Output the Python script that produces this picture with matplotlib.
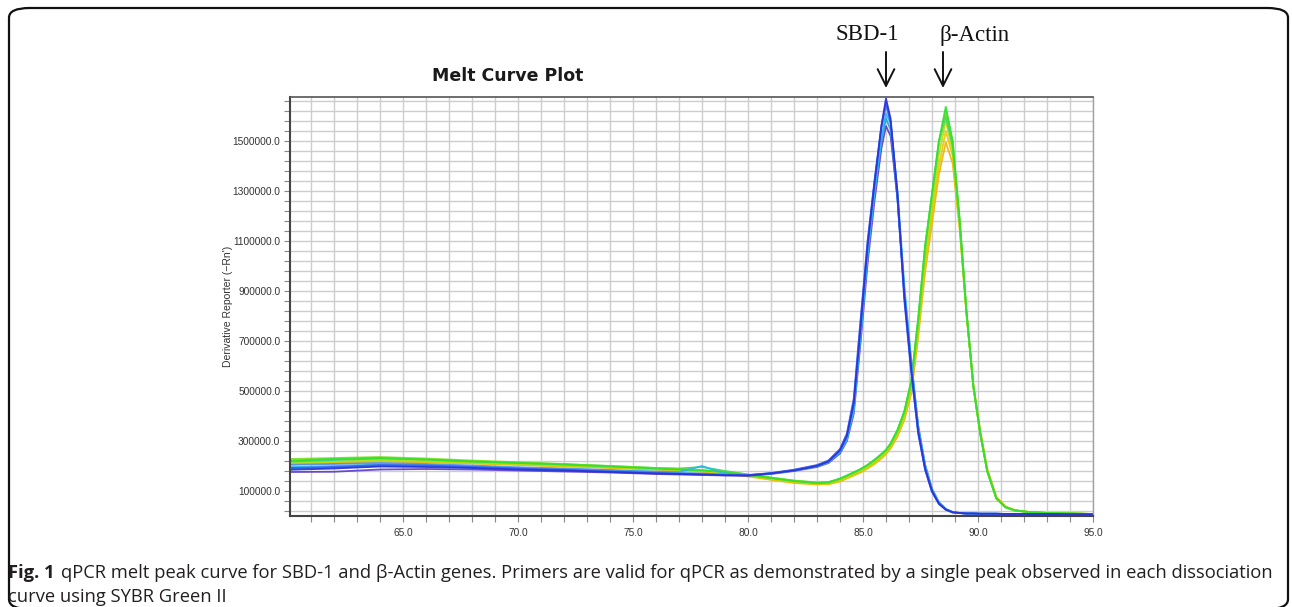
import numpy as np
import matplotlib
matplotlib.use("Agg")
import matplotlib.pyplot as plt
from matplotlib.ticker import FixedLocator, FormatStrFormatter
from matplotlib.patches import FancyBboxPatch
from matplotlib import font_manager

# temperature grid (deg C), denser around the two peaks
temp = [60.1, 62, 64, 66, 68, 70, 72, 74, 76,
        77, 78, 79, 80, 81, 82, 83,
        83.5, 84,
        84.3, 84.6, 84.9, 85.2, 85.5, 85.8,
        86.0,
        86.2, 86.5, 86.8, 87.1, 87.4, 87.7, 88.0, 88.3, 88.6,
        88.9, 89.2, 89.5, 89.8, 90.1, 90.4,
        90.8, 91.2, 91.6, 92.2, 93, 94, 95]

# derivative reporter values, in thousands
sbd1 = [185, 190, 198, 196, 192, 186, 182, 176, 170, 168, 166, 163, 162, 170, 182, 200, 218, 262,
        320, 450, 760, 1080, 1330, 1560, 1670, 1590, 1290, 880, 590, 340, 190, 100, 50, 26,
        15, 12, 10, 10, 9, 9, 9, 8, 8, 8, 8, 7, 7]
sbd2 = [192, 196, 204, 202, 196, 190, 185, 178, 172, 169, 166, 164, 163, 172, 185, 204, 222, 268,
        330, 470, 790, 1100, 1340, 1560, 1655, 1575, 1270, 860, 570, 330, 185, 96, 48, 25,
        14, 12, 10, 10, 9, 9, 9, 8, 8, 8, 8, 7, 7]
sbd3 = [176, 177, 186, 188, 186, 182, 178, 174, 168, 166, 164, 162, 161, 168, 180, 196, 212, 250,
        300, 410, 700, 1010, 1260, 1470, 1560, 1520, 1270, 900, 610, 360, 205, 108, 55, 28,
        16, 12, 10, 10, 9, 9, 9, 8, 8, 8, 8, 7, 7]
sbd4 = [196, 200, 206, 204, 198, 192, 188, 182, 178, 176, 200, 170, 164, 170, 182, 198, 214, 255,
        305, 420, 720, 1040, 1290, 1510, 1610, 1570, 1300, 920, 620, 360, 205, 108, 55, 28,
        16, 12, 10, 10, 9, 9, 9, 8, 8, 8, 8, 7, 7]
sbd5 = [205, 208, 212, 208, 202, 195, 190, 184, 176, 172, 170, 166, 164, 171, 184, 202, 220, 265,
        325, 460, 780, 1090, 1335, 1550, 1640, 1580, 1285, 875, 580, 335, 188, 98, 49, 25,
        14, 12, 10, 10, 9, 9, 9, 8, 8, 8, 8, 7, 7]
sbd6 = [190, 194, 200, 199, 194, 188, 184, 179, 174, 171, 168, 165, 163, 170, 183, 201, 219, 262,
        318, 440, 745, 1060, 1300, 1500, 1590, 1545, 1270, 890, 600, 350, 198, 104, 52, 27,
        15, 12, 10, 10, 9, 9, 9, 8, 8, 8, 8, 7, 7]

act1 = [222, 228, 232, 226, 218, 212, 206, 198, 190, 186, 182, 176, 164, 152, 140, 132, 134, 150,
        162, 175, 188, 205, 225, 248, 265, 290, 345, 420, 540, 790, 1080, 1290, 1500, 1637,
        1500, 1190, 820, 520, 330, 180, 70, 35, 22, 16, 12, 10, 8]
act2 = [228, 232, 236, 230, 222, 215, 208, 200, 192, 188, 184, 178, 166, 154, 142, 134, 136, 148,
        160, 172, 186, 202, 222, 245, 262, 288, 340, 415, 535, 780, 1070, 1280, 1490, 1620,
        1495, 1185, 815, 515, 328, 178, 68, 34, 22, 16, 12, 10, 8]
act3 = [212, 218, 224, 220, 214, 208, 202, 196, 188, 184, 180, 174, 162, 150, 138, 130, 131, 144,
        156, 168, 180, 196, 215, 238, 255, 280, 330, 400, 515, 750, 1030, 1240, 1445, 1580,
        1460, 1170, 810, 515, 330, 182, 72, 36, 23, 16, 12, 10, 8]
act4 = [208, 214, 220, 217, 212, 206, 200, 194, 187, 183, 179, 172, 160, 147, 134, 128, 128, 140,
        152, 164, 176, 192, 210, 232, 250, 272, 320, 390, 500, 730, 1000, 1200, 1400, 1540,
        1440, 1160, 810, 520, 335, 186, 74, 37, 23, 16, 12, 10, 8]
act5 = [206, 212, 218, 215, 210, 204, 198, 192, 185, 181, 177, 170, 158, 145, 132, 126, 127, 138,
        150, 162, 174, 190, 208, 230, 248, 270, 318, 385, 490, 715, 975, 1170, 1365, 1495,
        1410, 1150, 810, 525, 340, 190, 76, 38, 24, 16, 12, 10, 8]
act6 = [218, 224, 230, 226, 219, 213, 207, 200, 192, 190, 196, 180, 166, 153, 141, 133, 135, 149,
        161, 174, 187, 204, 224, 247, 264, 289, 342, 418, 538, 785, 1075, 1285, 1495, 1600,
        1480, 1180, 815, 518, 330, 180, 70, 35, 22, 16, 12, 10, 8]

sbd_curves = [sbd3, sbd6, sbd4, sbd5, sbd2, sbd1]
sbd_colors = ['#5b3cc4', '#1f9fd8', '#27b8ea', '#4f8ef2', '#3a5cf0', '#2b2fd6']
act_curves = [act5, act4, act3, act6, act2, act1]
act_colors = ['#f0b400', '#e6c800', '#b5dc10', '#28d47a', '#7ddc1f', '#2fe02f']

W, H = 1292, 607
fig = plt.figure(figsize=(W/100, H/100), dpi=100)
ax = fig.add_axes([290/W, 1-516/H, (1093-290)/W, (516-97)/H])

t = np.array(temp)
for y, c in zip(act_curves, act_colors):
    ax.plot(t, np.array(y)*1000, color=c, lw=1.3, alpha=0.9)
for y, c in zip(sbd_curves, sbd_colors):
    ax.plot(t, np.array(y)*1000, color=c, lw=1.3, alpha=0.9)

ax.set_xlim(60.09, 95.0)
ax.set_ylim(0, 1676000)
ax.xaxis.set_major_locator(FixedLocator(np.arange(65, 96, 5)))
ax.xaxis.set_minor_locator(FixedLocator(np.arange(61, 96, 1)))
ax.yaxis.set_major_locator(FixedLocator(np.arange(100000, 1600000, 200000)))
ax.yaxis.set_minor_locator(FixedLocator(np.arange(20000, 1676000, 40000)))
ax.xaxis.set_major_formatter(FormatStrFormatter('%.1f'))
ax.yaxis.set_major_formatter(FormatStrFormatter('%.1f'))
ax.grid(True, which='both', color='#cdcdcd', lw=1.0)
ax.set_axisbelow(True)
ax.tick_params(which='both', direction='out', length=4, width=0.8, color='#888888',
               labelsize=7.3, labelcolor='#333333', pad=5)
ax.tick_params(axis='y', pad=3)
for lab in ax.get_xticklabels() + ax.get_yticklabels():
    lab.set_family('Liberation Sans')
ax.spines['left'].set_color('#444444'); ax.spines['left'].set_linewidth(1.5)
ax.spines['bottom'].set_color('#444444'); ax.spines['bottom'].set_linewidth(1.5)
ax.spines['top'].set_color('#555555'); ax.spines['top'].set_linewidth(1.2)
ax.spines['right'].set_color('#a0a0a0'); ax.spines['right'].set_linewidth(1.0)

fig.text(508/W, 1-76/H, 'Melt Curve Plot', ha='center', va='center', fontsize=12.5,
         fontweight='bold', family='DejaVu Sans', color='#1a1a1a')
fig.text(228/W, 1-306/H, "Derivative Reporter (\u2212Rn')", rotation=90, ha='center',
         va='center', fontsize=7.5, family='Liberation Sans', color='#333333')

# gene labels and arrows
fig.text(867/W, 1-35/H, 'SBD-1', ha='center', va='center', fontsize=16.5,
         family='Liberation Serif', color='#111111')
fig.text(975/W, 1-35/H, '\u03b2-Actin', ha='center', va='center', fontsize=16.5,
         family='Liberation Serif', color='#111111')
for xp in [886, 943]:
    ax.annotate('', xy=(xp/W, 1-88/H), xytext=(xp/W, 1-52/H), xycoords='figure fraction',
                arrowprops=dict(arrowstyle='->,head_length=1.2,head_width=0.6', lw=1.4,
                                color='#111111', shrinkA=0, shrinkB=0))

# caption
names = {f.name for f in font_manager.fontManager.ttflist}
cap_font = 'Liberation Sans Narrow' if 'Liberation Sans Narrow' in names else 'Open Sans'
r = fig.canvas.get_renderer()
fs = 11.5
line1 = ('qPCR melt peak curve for SBD-1 and \u03b2-Actin genes. Primers are valid '
         'for qPCR as demonstrated by a single peak observed in each dissociation')
probe = fig.text(0, 0, 'Fig. 1 ', fontsize=fs, fontweight='bold', family=cap_font)
probe2 = fig.text(0, 0, line1, fontsize=fs, family=cap_font)
w_all = probe.get_window_extent(r).width + probe2.get_window_extent(r).width
probe.remove(); probe2.remove()
fs = fs*(1270-8)/w_all
bold = fig.text(8/W, 1-573/H, 'Fig. 1', ha='left', va='center', fontsize=fs, fontweight='bold',
                family=cap_font, color='#231f20')
bw = bold.get_window_extent(r).width
fig.text((8+bw+fs*0.45)/W, 1-573/H, line1, ha='left', va='center', fontsize=fs,
         family=cap_font, color='#231f20')
fig.text(8/W, 1-597/H, 'curve using SYBR Green II', ha='left', va='center', fontsize=fs,
         family=cap_font, color='#231f20')

# rounded frame round the figure
fig.patches.append(FancyBboxPatch((9/W, 1-609/H), (1288-9)/W, (609-8)/H,
                                  boxstyle='round,pad=0,rounding_size=0.016',
                                  transform=fig.transFigure, fill=False, ec='#111111', lw=1.6))

fig.savefig('out.png', dpi=100)
